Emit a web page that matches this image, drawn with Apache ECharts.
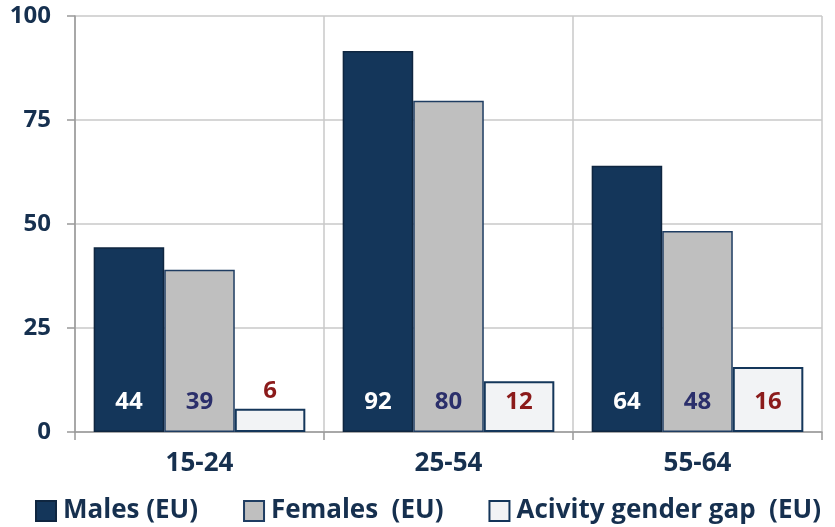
<!DOCTYPE html>
<html>
<head>
<meta charset="utf-8">
<script src="https://cdn.jsdelivr.net/npm/echarts@6/dist/echarts.min.js"></script>
<style>
  html, body { margin: 0; padding: 0; background: #fff; }
  #chart { width: 835px; height: 527px; }
</style>
</head>
<body>
<div id="chart"></div>
<script>
// data
var ageGroups = ["15-24", "25-54", "55-64"];
var males = [44.4, 91.6, 64.0];
var females = [39.0, 79.6, 48.3];
var gap = [5.6, 12.2, 15.6];
var yTicks = [0, 25, 50, 75, 100];

var navy = "#14365a";
var textNavy = "#16304f";
var font = "'Open Sans', sans-serif";

var chart = echarts.init(document.getElementById("chart"));

function lbl(color) {
  return {
    show: true,
    position: "insideBottom",
    distance: 18,
    color: color,
    fontSize: 24,
    fontWeight: "bold",
    fontFamily: font,
    formatter: function (p) { return Math.round(p.value); }
  };
}

// small gap bar gets its label on top
var gapData = gap.map(function (v) {
  if (v < 10) {
    return { value: v, label: { position: "top", distance: 6 } };
  }
  return v;
});

chart.setOption({
  animation: false,
  grid: { left: 75, right: 13, top: 16, bottom: 95 },
  legend: {
    bottom: -2,
    left: 30,
    itemWidth: 20,
    itemHeight: 20,
    itemGap: 45,
    icon: "rect",
    textStyle: { color: textNavy, fontSize: 26, fontWeight: "bold", fontFamily: font, padding: [0, 0, 0, 2] },
    data: ["Males (EU)", "Females  (EU)", "Acivity gender gap  (EU)"]
  },
  xAxis: {
    type: "category",
    data: ageGroups,
    axisLine: { lineStyle: { color: "#999", width: 1.5 } },
    axisTick: { show: true, length: 8, lineStyle: { color: "#999", width: 1.5 } },
    splitLine: { show: true, lineStyle: { color: "#c8c8c8", width: 1.5 } },
    axisLabel: { color: textNavy, fontSize: 26, fontWeight: "bold", fontFamily: font, margin: 19 }
  },
  yAxis: {
    type: "value",
    min: 0,
    max: 100,
    interval: 25,
    axisLine: { show: true, lineStyle: { color: "#999", width: 1.5 } },
    axisTick: { show: true, length: 8, lineStyle: { color: "#999", width: 1.5 } },
    splitLine: { lineStyle: { color: "#c8c8c8", width: 1.5 } },
    axisLabel: {
      color: textNavy, fontSize: 24, fontWeight: "bold", fontFamily: font, margin: 24,
      formatter: function (v) { return yTicks.indexOf(v) >= 0 ? v : ""; }
    }
  },
  series: [
    {
      name: "Males (EU)",
      type: "bar",
      data: males,
      barGap: "0%",
      barCategoryGap: "15%",
      itemStyle: { color: navy, borderColor: "#0f2640", borderWidth: 1.5 },
      label: lbl("#ffffff")
    },
    {
      name: "Females  (EU)",
      type: "bar",
      data: females,
      itemStyle: { color: "#bfbfbf", borderColor: "#1f3d62", borderWidth: 1.5 },
      label: lbl("#2b2f6b")
    },
    {
      name: "Acivity gender gap  (EU)",
      type: "bar",
      data: gapData,
      itemStyle: { color: "#f2f3f5", borderColor: navy, borderWidth: 2 },
      label: lbl("#8b1a1a")
    }
  ]
});
</script>
</body>
</html>
